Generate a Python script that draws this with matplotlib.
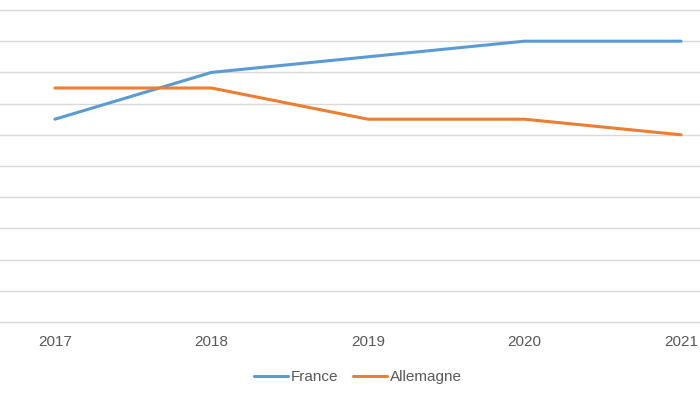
import matplotlib
matplotlib.use("Agg")
import matplotlib.pyplot as plt

years = ["2017", "2018", "2019", "2020", "2021"]
france = [6.5, 8.0, 8.5, 9.0, 9.0]
allemagne = [7.5, 7.5, 6.5, 6.5, 6.0]

BLUE = "#5B9BD5"
ORANGE = "#ED7D31"
GRID = "#D9D9D9"
TEXT = "#595959"

plt.rcParams["font.family"] = ["Liberation Sans", "DejaVu Sans"]

fig = plt.figure(figsize=(7, 3.94), dpi=100)
ax = fig.add_axes([0, 72 / 394, 1, 312 / 394])

x = list(range(len(years)))
ax.plot(x, france, color=BLUE, linewidth=2.2, label="France", solid_capstyle="round")
ax.plot(x, allemagne, color=ORANGE, linewidth=2.2, label="Allemagne", solid_capstyle="round")

ax.set_xlim(-0.351, 4.121)
ax.set_ylim(0, 10)
ax.set_yticks(range(0, 11))
ax.grid(True, axis="y", color=GRID, linewidth=1.0)
ax.set_axisbelow(True)
for gl in ax.get_ygridlines():
    gl.set_clip_on(False)

ax.set_xticks(x)
ax.set_xticklabels(years, fontsize=11, color=TEXT)
ax.tick_params(axis="x", length=0, pad=9)
ax.tick_params(axis="y", length=0, labelleft=False)
for s in ax.spines.values():
    s.set_visible(False)

fig.legend(loc="center", bbox_to_anchor=(358 / 700, 1 - 377 / 394), ncol=2,
           frameon=False, fontsize=11, labelcolor=TEXT, handlelength=2.2,
           handletextpad=0.2, columnspacing=1.0)

fig.savefig("out.png", dpi=100)
